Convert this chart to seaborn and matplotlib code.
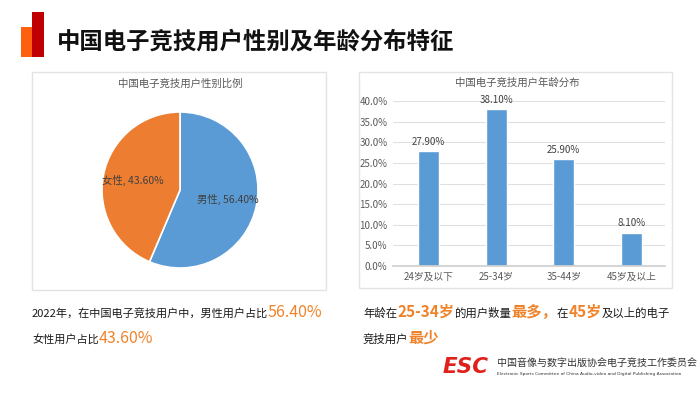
import matplotlib
matplotlib.use("Agg")
import matplotlib.pyplot as plt
import seaborn as sns
import pandas as pd
from matplotlib.patches import Rectangle
from matplotlib import font_manager, ft2font

# data
gender = ["男性", "女性"]
gender_share = [56.4, 43.6]
age_groups = ["24岁及以下", "25-34岁", "35-44岁", "45岁及以上"]
age_share = [27.9, 38.1, 25.9, 8.1]
y_ticks = [0, 5, 10, 15, 20, 25, 30, 35, 40]

sns.set_theme(style="white")
plt.rcParams['font.family'] = ['Noto Sans CJK SC', 'DejaVu Sans']

W, H = 700, 399
BLUE = "#5B9BD5"
ORANGE = "#ED7D31"
HL = "#F0832A"
GREY = "#595959"

fig = plt.figure(figsize=(7, 3.99), dpi=100)
fig.patch.set_facecolor("white")

def fx(x):
    return x / W

def fy(y):
    return 1 - y / H

def box(x0, y0, x1, y1, **kw):
    fig.patches.append(Rectangle((fx(x0), fy(y1)), fx(x1 - x0), (y1 - y0) / H,
                                 transform=fig.transFigure, **kw))

# logo bars and title
box(21, 27, 32, 57, facecolor="#FF6010", edgecolor="none")
box(32, 12, 44, 57, facecolor="#C00000", edgecolor="none")
fig.text(fx(57), fy(42), "中国电子竞技用户性别及年龄分布特征", fontsize=16.8,
         fontweight="bold", color="#111111", va="center", ha="left")

# panels
box(32, 72, 326, 290, facecolor="none", edgecolor="#E3E3E3", linewidth=1)
box(359, 72, 672, 288, facecolor="none", edgecolor="#E3E3E3", linewidth=1)

# pie
r = 78
ax1 = fig.add_axes([fx(180 - r), fy(190 + r), 2 * r / W, 2 * r / H])
labels = [f"{g}, {v:.2f}%" for g, v in zip(gender, gender_share)]
wedges, texts = ax1.pie(gender_share, labels=labels, colors=[BLUE, ORANGE],
                        startangle=90, counterclock=False, labeldistance=0.62,
                        wedgeprops=dict(edgecolor="white", linewidth=1.2),
                        textprops=dict(fontsize=7.5, color="#404040"))
for t in texts:
    t.set_ha("center")
    t.set_va("center")
ax1.set_xlim(-1, 1)
ax1.set_ylim(-1, 1)
ax1.set_aspect("equal")
fig.text(fx(180), fy(84), "中国电子竞技用户性别比例", fontsize=7.5, color=GREY,
         ha="center", va="center")

# bars
ax2 = fig.add_axes([fx(393), fy(266), fx(665 - 393), (266 - 101) / H])
df = pd.DataFrame({"age": age_groups, "share": age_share})
sns.barplot(data=df, x="age", y="share", color=BLUE, width=0.31, ax=ax2,
            saturation=1)
ax2.bar_label(ax2.containers[0], fmt="%.2f%%", padding=3, fontsize=7,
              color="#404040")
ax2.set_ylim(0, 40)
ax2.set_xlim(-0.53, 3.5)
ax2.set_yticks(y_ticks)
ax2.set_yticklabels([f"{v:.1f}%" for v in y_ticks])
ax2.set_xlabel("")
ax2.set_ylabel("")
ax2.tick_params(axis="both", labelsize=7, colors=GREY, length=0, pad=4)
ax2.yaxis.grid(True, color="#E0E0E0", linewidth=0.8)
ax2.set_axisbelow(True)
for s in ["left", "right", "top"]:
    ax2.spines[s].set_visible(False)
ax2.spines["bottom"].set_color("#D0D0D0")
ax2.patch.set_alpha(0)
fig.text(fx(517), fy(83), "中国电子竞技用户年龄分布", fontsize=7.5, color=GREY,
         ha="center", va="center")

# mixed-colour text lines, placed by glyph advance widths
try:
    _flag = ft2font.LoadFlags.NO_HINTING
except AttributeError:
    _flag = ft2font.LOAD_NO_HINTING
_fonts = {}

def advance(s, size, weight):
    if weight not in _fonts:
        fp = font_manager.FontProperties(family="Noto Sans CJK SC", weight=weight)
        _fonts[weight] = ft2font.FT2Font(font_manager.findfont(fp))
    f = _fonts[weight]
    f.set_size(size, 100)
    return sum(f.load_char(ord(c), flags=_flag).linearHoriAdvance / 65536.0
               for c in s)

def rich(x, y, parts, small=8, big=11, bold=False):
    for s, hi in parts:
        size = big if hi else small
        col = HL if hi else "#1A1A1A"
        w = "bold" if (hi and bold) else "normal"
        fig.text(fx(x), fy(y), s, fontsize=size, color=col, ha="left",
                 va="baseline", fontweight=w)
        x += advance(s, size, w)

rich(32, 317, [("2022年，在中国电子竞技用户中，男性用户占比", False), ("56.40%", True)],
     small=8, big=11.5)
rich(32, 343, [("女性用户占比", False), ("43.60%", True)], small=8, big=11.5)
rich(363, 317, [("年龄在", False), ("25-34岁", True), ("的用户数量", False),
                ("最多，", True), ("在", False), ("45岁", True),
                ("及以上的电子", False)], small=8.2, big=11, bold=True)
rich(363, 343, [("竞技用户", False), ("最少", True)], small=8.2, big=11, bold=True)

# footer logo
fig.text(fx(443), fy(367), "ESC", fontsize=15.5, fontweight="bold", fontstyle="italic",
         color="#E0201B", family="DejaVu Sans", ha="left", va="center")
fig.text(fx(497), fy(363), "中国音像与数字出版协会电子竞技工作委员会", fontsize=7.2,
         color="#333333", ha="left", va="center")
fig.text(fx(497), fy(374), "Electronic Sports Committee of China Audio-video and Digital Publishing Association",
         fontsize=3.2, color="#333333", ha="left", va="center", family="DejaVu Sans")

fig.savefig("out.png", dpi=100, facecolor="white")
